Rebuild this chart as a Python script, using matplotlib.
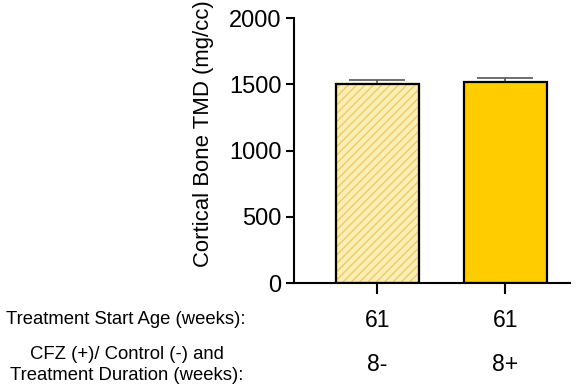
import matplotlib.pyplot as plt
import matplotlib as mpl

plt.rcParams["font.family"] = ["Liberation Sans", "DejaVu Sans"]
mpl.rcParams["hatch.linewidth"] = 1.0

# groups
start_age = ["61", "61"]
duration = ["8-", "8+"]
tmd_mean = [1505, 1520]
tmd_sem = [26, 30]

FILL_COLORS = ["#FBEEB5", "#FFCC00"]
HATCH_COLOR = "#EBCB6A"

fig = plt.figure(figsize=(5.85, 3.92), dpi=100)
ax = fig.add_axes([0.5026, 0.278, 0.4714, 0.676])

x = [0, 1]
bars = ax.bar(x, tmd_mean, width=0.65, color=FILL_COLORS,
              edgecolor="black", linewidth=1.6, zorder=2)
bars[0].set_hatch("////")
bars[0].set_edgecolor(HATCH_COLOR)
# redraw outline in black over the hatched bar
ax.bar(x[0], tmd_mean[0], width=0.65, fill=False, edgecolor="black",
       linewidth=1.6, zorder=3)

# upper error only
ax.errorbar(x, tmd_mean, yerr=[[0, 0], tmd_sem], fmt="none",
            ecolor="#555555", elinewidth=1.2, capsize=20, capthick=1.2, zorder=1)

ax.set_xlim(-0.652, 1.504)
ax.set_ylim(0, 2000)
ax.set_yticks([0, 500, 1000, 1500, 2000])
ax.set_xticks(x)
ax.set_xticklabels([])
ax.tick_params(axis="y", labelsize=17, width=1.5, length=6, pad=3)
ax.tick_params(axis="x", width=1.5, length=8)
ax.set_ylabel("Cortical Bone TMD (mg/cc)", fontsize=15.9)
ax.yaxis.set_label_coords(-0.29, 0.565)

for side in ["top", "right"]:
    ax.spines[side].set_visible(False)
for side in ["left", "bottom"]:
    ax.spines[side].set_linewidth(1.5)

# table of group settings below the axis
trans = ax.get_xaxis_transform()
fig.text(245 / 585, 1 - 320 / 392, "Treatment Start Age (weeks):",
         ha="right", va="center", fontsize=13.3)
fig.text(127 / 585, 1 - 365 / 392, "CFZ (+)/ Control (-) and\nTreatment Duration (weeks):",
         ha="center", va="center", fontsize=13.3, linespacing=1.3)
for xi, age, dur in zip(x, start_age, duration):
    ax.text(xi, 1 - (320 - 18) / 265, age, transform=trans,
            ha="center", va="center", fontsize=16.5)
    ax.text(xi, 1 - (364 - 18) / 265, dur, transform=trans,
            ha="center", va="center", fontsize=16.5)

fig.savefig("out.png", dpi=100)
